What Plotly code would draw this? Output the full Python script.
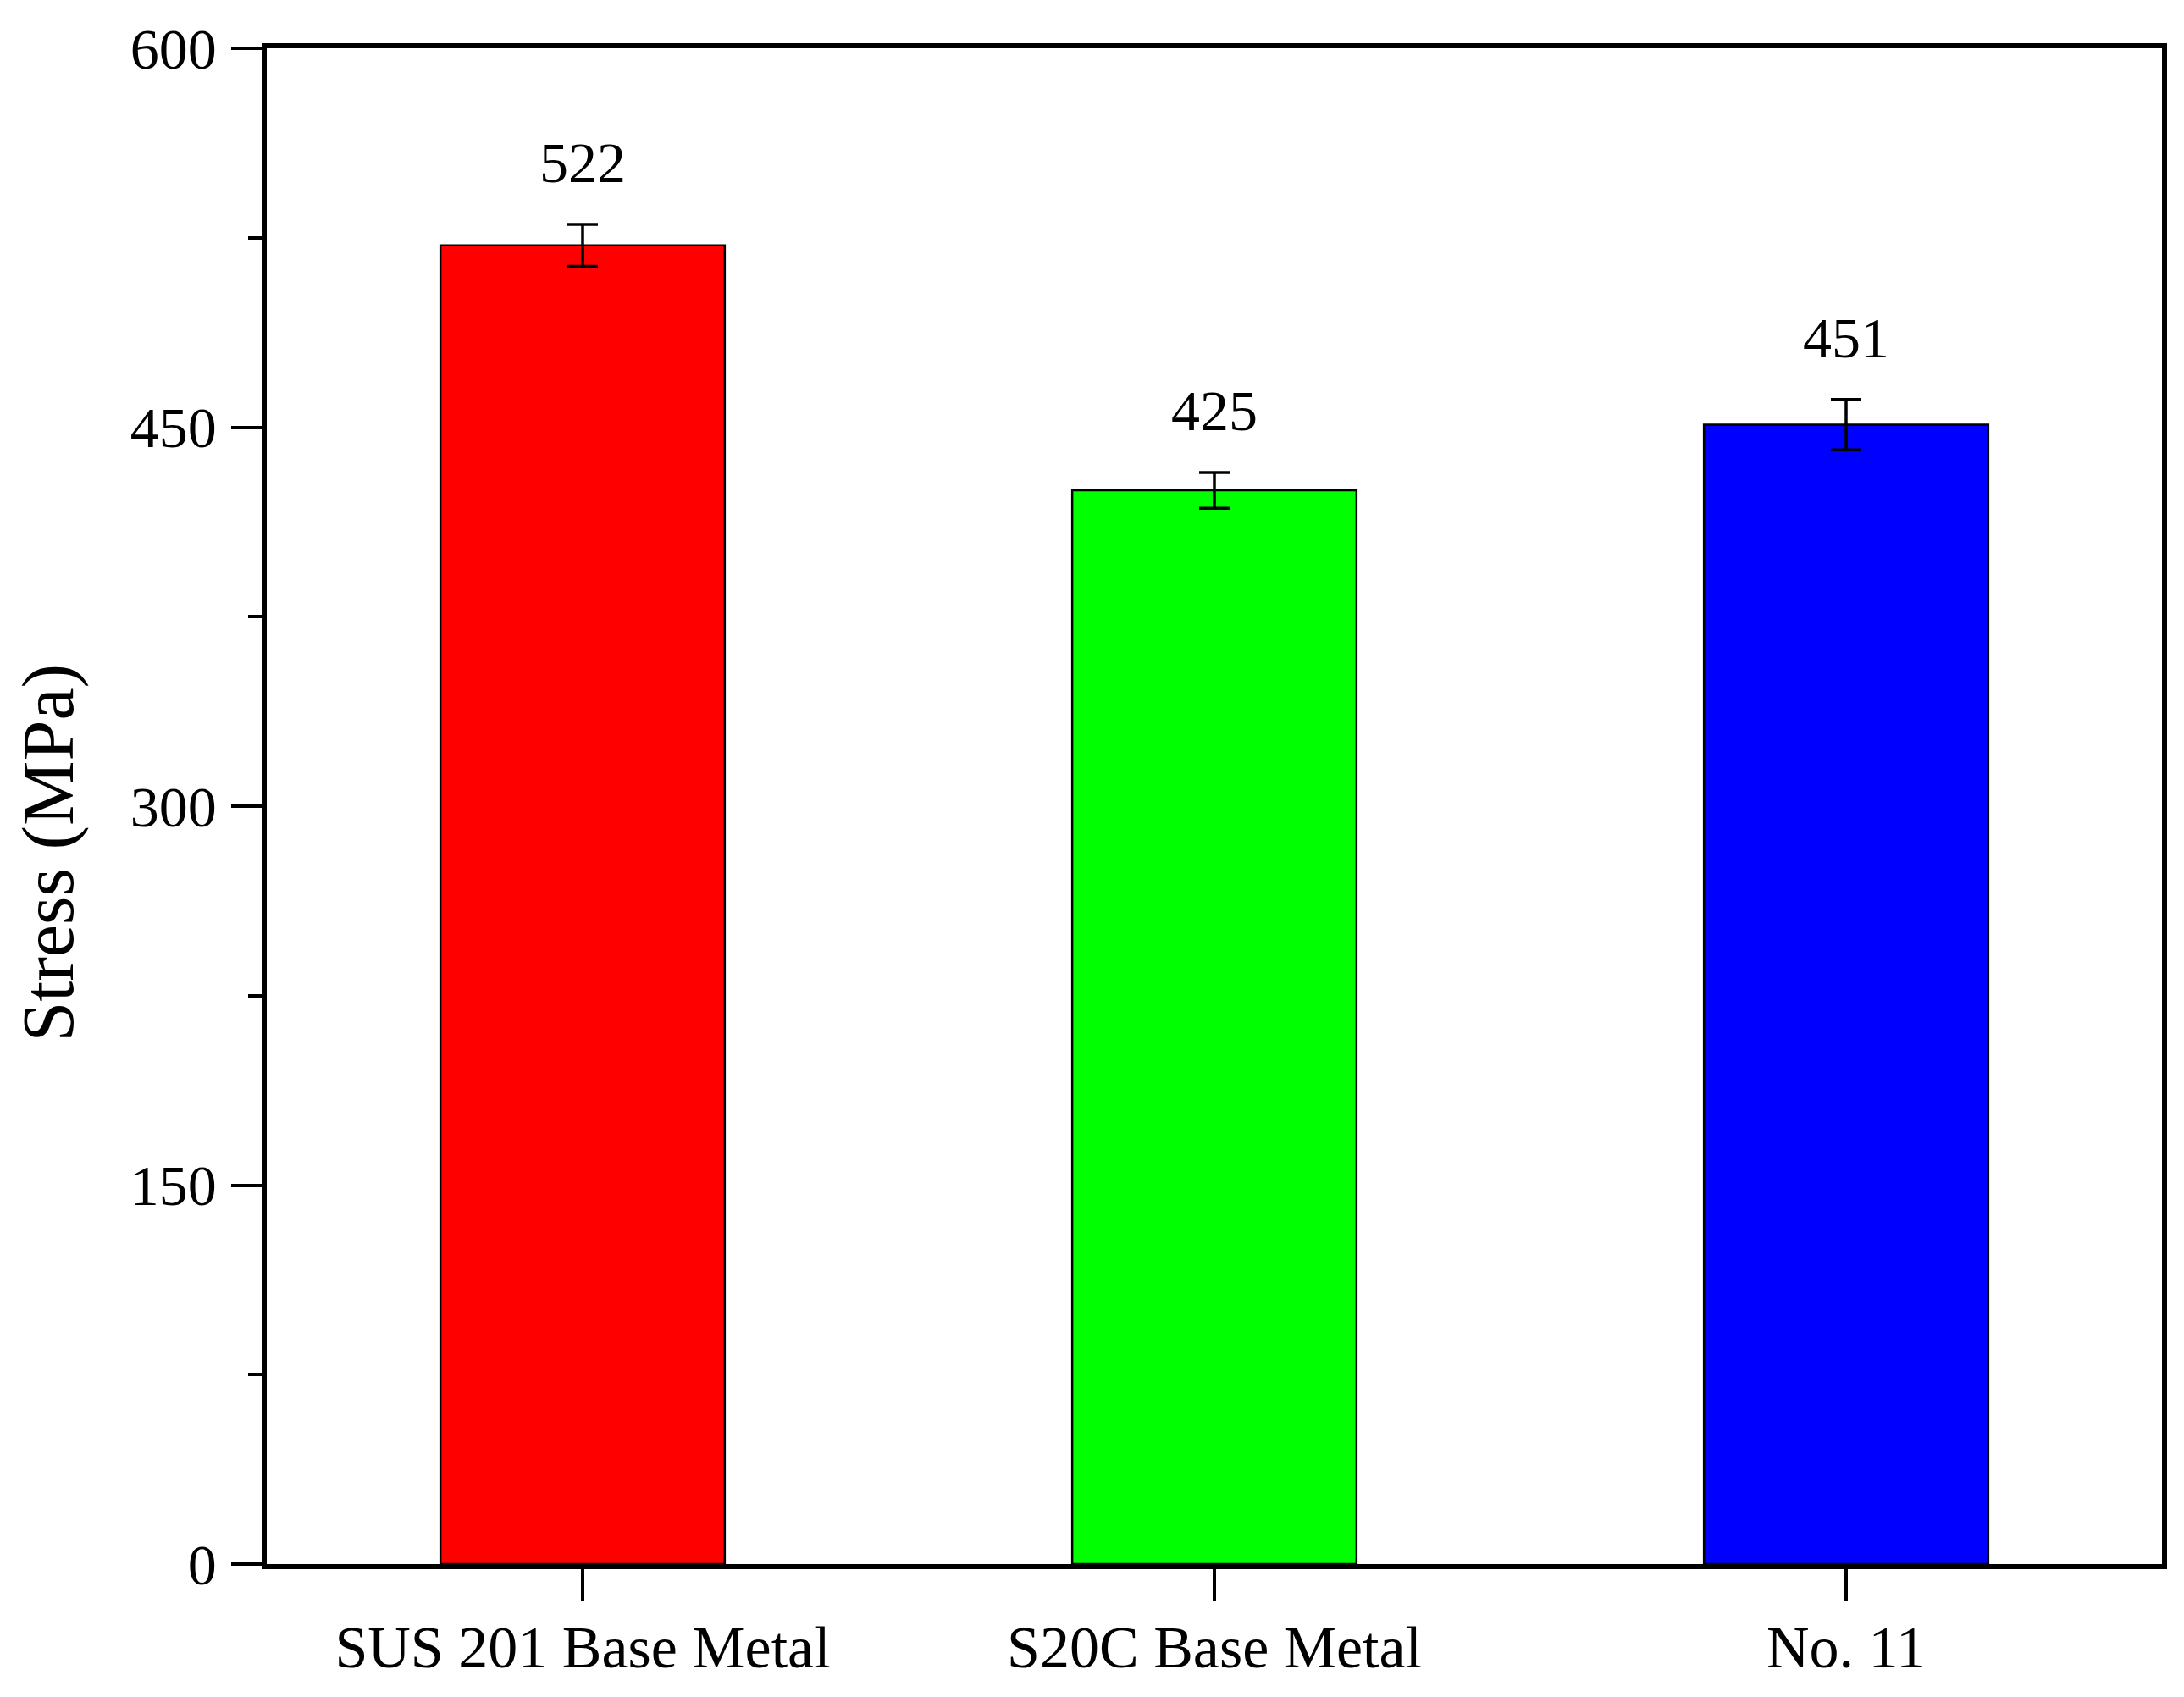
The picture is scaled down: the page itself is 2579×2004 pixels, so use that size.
import plotly.graph_objects as go

categories = ["SUS 201 Base Metal", "S20C Base Metal", "No. 11"]
stress = [522, 425, 451]
errors = [8.3, 7.1, 10.0]
bar_colors = ["#ff0000", "#00ff00", "#0000ff"]
y_ticks = [0, 150, 300, 450, 600]

FONT = "Times New Roman, Liberation Serif, serif"

fig = go.Figure()
fig.add_trace(go.Bar(
    x=categories,
    y=stress,
    width=0.45,
    marker=dict(color=bar_colors, line=dict(color="black", width=2.5)),
    error_y=dict(type="data", array=errors, visible=True,
                 color="black", thickness=3.5, width=18),
    showlegend=False,
))

for c, v, e in zip(categories, stress, errors):
    fig.add_annotation(x=c, y=v + e, text=str(v), showarrow=False,
                       yanchor="bottom", yshift=33,
                       font=dict(family=FONT, size=68, color="black"))

fig.add_annotation(xref="paper", yref="paper", x=0, y=0.469,
                   xanchor="center", yanchor="middle", xshift=-258,
                   text="Stress (MPa)", textangle=-90, showarrow=False,
                   font=dict(family=FONT, size=86, color="black"))

fig.update_layout(
    width=2563, height=1988, autosize=False,
    margin=dict(l=307, r=15, t=44, b=138, pad=0),
    paper_bgcolor="white", plot_bgcolor="white",
    font=dict(family=FONT, size=70, color="black"),
    bargap=0.55,
)
fig.update_xaxes(
    type="category", range=[-0.5, 2.5],
    showline=True, linecolor="black", linewidth=5.5, mirror=True,
    ticks="outside", ticklen=38, tickwidth=4, tickcolor="black",
    ticklabelstandoff=-6,
    showgrid=False, zeroline=False,
    tickfont=dict(family=FONT, size=70, color="black"),
)
fig.update_yaxes(
    range=[0, 600], tickvals=y_ticks,
    showline=True, linecolor="black", linewidth=5.5, mirror=True,
    ticks="outside", ticklen=36, tickwidth=4, tickcolor="black",
    ticklabelstandoff=4,
    minor=dict(dtick=75, ticks="outside", ticklen=16, tickwidth=4, tickcolor="black", showgrid=False),
    showgrid=False, zeroline=False,
    tickfont=dict(family=FONT, size=68, color="black"),
)

fig.write_html("out.html")
